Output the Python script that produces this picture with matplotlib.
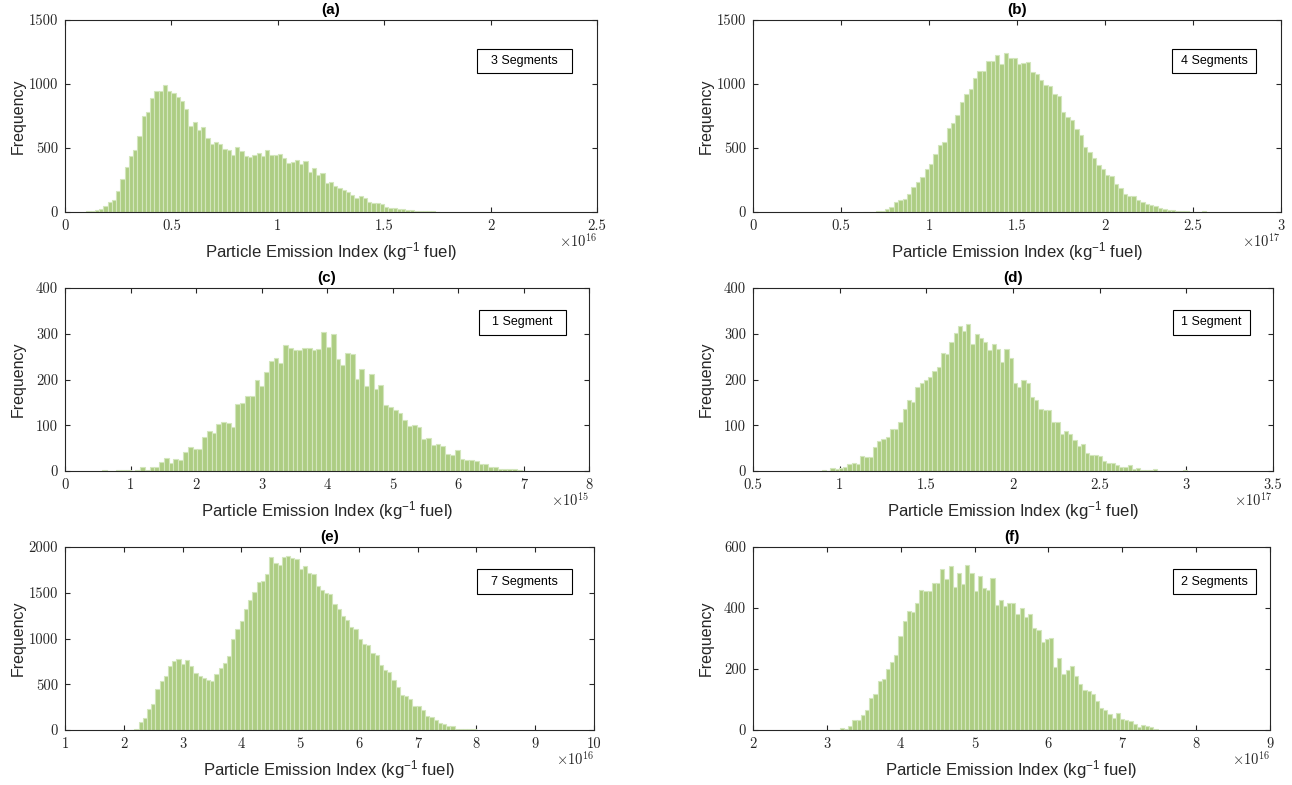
import matplotlib
matplotlib.use("Agg")
import matplotlib.pyplot as plt
from matplotlib.patches import Rectangle

# ---------------------------------------------------------------------------
# Histogram counts.  Each panel uses uniform bins described by the centre of
# the first bin and the bin width (x in units of 10**exp kg^-1 fuel).
# ---------------------------------------------------------------------------
counts_a = [8, 8, 14, 22, 43, 76, 97, 165, 257, 351, 435, 481, 594, 751, 780,
            894, 948, 948, 991, 942, 932, 899, 867, 805, 675, 705, 640, 667,
            578, 532, 548, 532, 489, 481, 448, 510, 473, 440, 427, 443, 464,
            435, 481, 448, 448, 454, 419, 383, 389, 405, 375, 397, 313, 346,
            292, 308, 227, 238, 203, 189, 173, 157, 130, 113, 122, 107, 81,
            70, 68, 62, 36, 34, 29, 26, 21, 13, 13, 10, 8, 8, 5, 5, 3]
start_a, width_a, exp_a = 0.11, 0.02, 16

counts_b = [3, 0, 3, 5, 10, 26, 42, 78, 94, 102, 141, 198, 232, 271, 336, 372,
            453, 521, 544, 654, 693, 755, 862, 922, 958, 1044, 1101, 1104,
            1177, 1177, 1229, 1159, 1242, 1200, 1200, 1159, 1167, 1169, 1096,
            1081, 1031, 990, 982, 922, 906, 781, 745, 719, 651, 599, 508, 466,
            424, 365, 336, 286, 279, 219, 190, 141, 125, 125, 96, 78, 62, 55,
            47, 31, 23, 13, 13, 8, 8, 8, 3, 3, 0, 5]
start_b, width_b, exp_b = 0.6375, 0.025, 17

counts_c = [2, 0, 0, 3, 3, 3, 0, 2, 9, 2, 9, 9, 19, 28, 17, 26, 23, 41, 52, 47,
            47, 74, 88, 84, 103, 107, 104, 97, 147, 149, 165, 165, 199, 186,
            216, 241, 246, 235, 275, 269, 265, 264, 269, 269, 265, 266, 304,
            272, 299, 245, 231, 259, 255, 202, 223, 186, 212, 180, 188, 145,
            139, 133, 127, 111, 99, 101, 96, 70, 72, 57, 59, 55, 37, 35, 45,
            26, 23, 23, 21, 15, 15, 9, 9, 5, 4, 4, 4, 3, 1, 0, 1, 1, 1]
start_c, width_c, exp_c = 0.60, 0.0728, 15

counts_d = [1, 0, 0, 0, 0, 2, 1, 6, 5, 7, 8, 15, 17, 15, 33, 31, 31, 53, 66,
            71, 75, 92, 92, 108, 135, 155, 151, 184, 192, 199, 205, 219, 227,
            258, 256, 281, 302, 317, 305, 321, 277, 299, 291, 282, 264, 277,
            267, 238, 266, 246, 193, 184, 199, 193, 161, 155, 136, 133, 133,
            108, 108, 80, 88, 81, 68, 55, 58, 39, 36, 34, 33, 21, 17, 17, 13,
            9, 9, 13, 5, 6, 3, 2, 3, 4, 1, 0, 1, 0, 0, 0, 2]
start_d, width_d, exp_d = 0.787, 0.0245, 17

counts_e = [2, 11, 84, 135, 226, 288, 448, 536, 590, 703, 754, 776, 725, 765,
            700, 623, 590, 572, 550, 532, 612, 681, 736, 809, 995, 1107, 1191,
            1322, 1421, 1505, 1614, 1628, 1701, 1891, 1829, 1800, 1887, 1905,
            1883, 1865, 1763, 1789, 1716, 1705, 1574, 1526, 1497, 1486, 1373,
            1319, 1250, 1202, 1129, 1107, 991, 936, 925, 845, 816, 707, 656,
            630, 543, 474, 379, 375, 342, 259, 259, 216, 153, 138, 109, 77,
            62, 40, 40, 15, 11, 11, 11, 15]
start_e, width_e, exp_e = 2.143, 0.0717, 16

counts_f = [1, 5, 3, 13, 33, 33, 49, 64, 105, 119, 162, 168, 199, 223, 247,
            309, 356, 390, 387, 415, 458, 455, 455, 482, 482, 527, 494, 537,
            470, 515, 479, 540, 515, 455, 506, 467, 460, 500, 409, 426, 406,
            418, 415, 379, 399, 372, 379, 333, 327, 287, 298, 302, 208, 235,
            184, 197, 209, 177, 151, 132, 127, 117, 95, 72, 66, 52, 40, 56,
            37, 32, 29, 20, 11, 16, 13, 10, 3]
start_f, width_f, exp_f = 3.148, 0.0566, 16

panel_titles = ["(a)", "(b)", "(c)", "(d)", "(e)", "(f)"]
legend_labels = ["3 Segments", "4 Segments", "1 Segment", "1 Segment",
                 "7 Segments", "2 Segments"]
xtick_values = [
    [0, 0.5, 1, 1.5, 2, 2.5],
    [0, 0.5, 1, 1.5, 2, 2.5, 3],
    [0, 1, 2, 3, 4, 5, 6, 7, 8],
    [0.5, 1, 1.5, 2, 2.5, 3, 3.5],
    [1, 2, 3, 4, 5, 6, 7, 8, 9, 10],
    [2, 3, 4, 5, 6, 7, 8, 9],
]
ytick_values = [
    [0, 500, 1000, 1500],
    [0, 500, 1000, 1500],
    [0, 100, 200, 300, 400],
    [0, 100, 200, 300, 400],
    [0, 500, 1000, 1500, 2000],
    [0, 200, 400, 600],
]
xlabel_text = "Particle Emission Index (kg$^{-1}$ fuel)"
ylabel_text = "Frequency"

series = [
    (counts_a, start_a, width_a, exp_a),
    (counts_b, start_b, width_b, exp_b),
    (counts_c, start_c, width_c, exp_c),
    (counts_d, start_d, width_d, exp_d),
    (counts_e, start_e, width_e, exp_e),
    (counts_f, start_f, width_f, exp_f),
]

# ---------------------------------------------------------------------------
# Layout (pixel boxes on a 1292 x 785 canvas)
# ---------------------------------------------------------------------------
W, H = 1292, 785
axes_px = [  # left, right, top, bottom
    (65, 597, 20, 212),
    (753, 1281, 20, 212),
    (65, 589, 288, 471),
    (753, 1273, 288, 471),
    (65, 594, 547, 730),
    (753, 1270, 547, 730),
]
legend_px = [  # left, right, top, bottom
    (477, 572, 49, 73),
    (1172, 1256, 49, 73),
    (479, 566, 310, 335),
    (1173, 1250, 310, 335),
    (477, 572, 569, 594),
    (1173, 1256, 569, 594),
]

BAR_FACE = "#adcd83"
BAR_EDGE = "#d3e6bd"
AX_COLOR = "#262626"
SANS = ["Liberation Sans", "DejaVu Sans"]

plt.rcParams["font.family"] = SANS
plt.rcParams["mathtext.fontset"] = "custom"
plt.rcParams["mathtext.rm"] = "Liberation Sans"
plt.rcParams["mathtext.it"] = "Liberation Sans:italic"
plt.rcParams["mathtext.bf"] = "Liberation Sans:bold"

fig = plt.figure(figsize=(W / 100, H / 100), dpi=100)
fig.patch.set_facecolor("white")


def px_rect(l, r, t, b):
    return [l / W, 1 - b / H, (r - l) / W, (b - t) / H]


for i, (counts, start, width, exp) in enumerate(series):
    l, r, t, b = axes_px[i]
    ax = fig.add_axes(px_rect(l, r, t, b))
    centers = [start + k * width for k in range(len(counts))]
    ax.bar(centers, counts, width=width, color=BAR_FACE,
           edgecolor=BAR_EDGE, linewidth=0.8, align="center", zorder=2)

    xt, yt = xtick_values[i], ytick_values[i]
    ax.set_xlim(xt[0], xt[-1])
    ax.set_ylim(yt[0], yt[-1])
    ax.set_xticks(xt)
    ax.set_yticks(yt)
    ax.set_xticklabels([f"{v:g}" for v in xt])
    ax.set_yticklabels([f"{v:g}" for v in yt])

    for side in ax.spines.values():
        side.set_color(AX_COLOR)
        side.set_linewidth(0.8)
    ax.tick_params(direction="in", length=3.5, width=0.8, colors=AX_COLOR,
                   top=True, right=True, labelsize=10.5,
                   labelfontfamily="cmr10", pad=5)

    h_px = b - t
    w_px = r - l
    ax.text(0.5, 1 + 10 / h_px, panel_titles[i], transform=ax.transAxes,
            ha="center", va="center", fontsize=11, fontweight="bold",
            color="black")
    ax.set_xlabel(xlabel_text, fontsize=12, color=AX_COLOR)
    ax.xaxis.set_label_coords(0.5, -40 / h_px)
    ax.xaxis.label.set_va("center")
    ax.set_ylabel(ylabel_text, fontsize=11.5, color=AX_COLOR)
    ax.yaxis.set_label_coords(-47 / w_px, 0.5)
    ax.yaxis.label.set_va("center")

    ax.text(1.0, -29 / h_px, rf"$\times10^{{{exp}}}$", transform=ax.transAxes,
            ha="right", va="center", fontsize=10.5, color=AX_COLOR,
            math_fontfamily="cm")

    # segment-count box
    ll, lr, lt, lb = legend_px[i]
    fig.add_artist(Rectangle((ll / W, 1 - lb / H), (lr - ll) / W, (lb - lt) / H,
                             transform=fig.transFigure, facecolor="white",
                             edgecolor="black", linewidth=0.8, zorder=5))
    fig.text((ll + lr) / 2 / W, 1 - (lt + lb) / 2 / H, legend_labels[i],
             ha="center", va="center", fontsize=9, color="black", zorder=6)

fig.savefig("out.png", dpi=100, facecolor="white")
